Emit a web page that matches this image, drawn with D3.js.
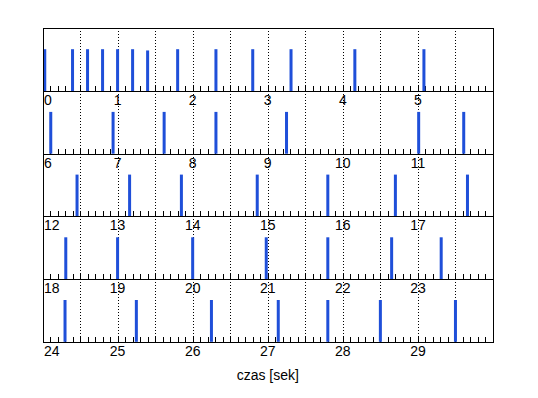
<!DOCTYPE html>
<html>
<head>
<meta charset="utf-8">
<script src="https://cdn.jsdelivr.net/npm/d3@7"></script>
<style>
  body { margin: 0; background: #fff; }
  text { font-family: "Liberation Sans", Arial, sans-serif; }
</style>
</head>
<body>
<div id="chart"></div>
<script>
// spike times (seconds), 5 rows of 6 s each
const spikeTimes = [
  0.03, 0.40, 0.60, 0.80, 1.00, 1.20, 1.40, 1.80, 2.31, 2.80, 3.31, 4.16, 5.08,
  6.11, 6.94, 7.62, 8.31, 9.25, 11.01, 11.61,
  12.46, 13.16, 13.85, 14.86, 15.80, 16.70, 17.66,
  18.31, 19.00, 20.00, 20.98, 21.80, 22.65, 23.31,
  24.30, 25.25, 26.25, 27.14, 27.80, 28.50, 29.50
];
const spikeHeights = [
  1, 1, 1, 1, 1, 1, 0.97, 1, 1, 1, 1, 1, 1,
  1, 1, 1, 1, 1, 1, 1,
  1, 1, 1, 1, 1, 1, 1,
  1, 1, 1, 1, 1, 1, 1,
  1, 1, 1, 1, 1, 1, 1
];
const rowSeconds = 6;
const rowCount = 5;
const xLabel = "czas [sek]";

const width = 538, height = 398;
const margin = {top: 28.3, left: 42.5, right: 45};
const panelH = 62.7;
const barColor = "#1f4fd9";

const svg = d3.select("#chart")
  .append("svg")
  .attr("width", width)
  .attr("height", height);

const data = spikeTimes.map((t, i) => ({t: t, h: spikeHeights[i]}));

for (let r = 0; r < rowCount; r++) {
  const t0 = r * rowSeconds;
  const top = margin.top + r * panelH;
  const bottom = top + panelH;

  const x = d3.scaleLinear()
    .domain([t0, t0 + rowSeconds])
    .range([margin.left, width - margin.right]);
  const y = d3.scaleLinear()
    .domain([0, 1.5])
    .range([bottom, top]);

  const g = svg.append("g");

  // dotted grid every 0.5 s
  const gridVals = d3.range(1, rowSeconds * 2).map(k => t0 + k * 0.5);
  g.append("g")
    .selectAll("line")
    .data(gridVals)
    .join("line")
    .attr("x1", d => Math.round(x(d)) + 0.5)
    .attr("x2", d => Math.round(x(d)) + 0.5)
    .attr("y1", top)
    .attr("y2", bottom)
    .attr("stroke", "#000")
    .attr("stroke-width", 1)
    .attr("stroke-dasharray", "1,2")
    .attr("shape-rendering", "crispEdges");

  // minor ticks every 0.1 s pointing up
  const tickVals = d3.range(1, rowSeconds * 10).map(k => t0 + k / 10);
  g.append("g")
    .selectAll("line")
    .data(tickVals)
    .join("line")
    .attr("x1", d => Math.round(x(d)) + 0.5)
    .attr("x2", d => Math.round(x(d)) + 0.5)
    .attr("y1", bottom)
    .attr("y2", bottom - 5)
    .attr("stroke", "#000")
    .attr("shape-rendering", "crispEdges");

  // spikes
  const rowData = data.filter(d => d.t >= t0 && d.t < t0 + rowSeconds);
  g.append("g")
    .selectAll("rect")
    .data(rowData)
    .join("rect")
    .attr("x", d => x(d.t) - 1.5)
    .attr("width", 3)
    .attr("y", d => y(d.h))
    .attr("height", d => y(0) - y(d.h))
    .attr("fill", barColor);

  // box
  g.append("rect")
    .attr("x", Math.round(margin.left) + 0.5)
    .attr("y", Math.round(top) + 0.5)
    .attr("width", Math.round(width - margin.right) - Math.round(margin.left))
    .attr("height", Math.round(bottom) - Math.round(top))
    .attr("fill", "none")
    .attr("stroke", "#000")
    .attr("shape-rendering", "crispEdges");

  // integer labels under the row
  const labelVals = d3.range(0, rowSeconds).map(k => t0 + k);
  g.append("g")
    .selectAll("text")
    .data(labelVals)
    .join("text")
    .attr("x", (d, i) => i === 0 ? x(d) + 1.5 : x(d))
    .attr("y", bottom + 14)
    .attr("text-anchor", (d, i) => i === 0 ? "start" : "middle")
    .attr("font-size", "14px")
    .attr("fill", "#000")
    .text(d => d);
}

svg.append("text")
  .attr("x", (margin.left + width - margin.right) / 2)
  .attr("y", 380)
  .attr("text-anchor", "middle")
  .attr("font-size", "14px")
  .attr("fill", "#000")
  .text(xLabel);
</script>
</body>
</html>
